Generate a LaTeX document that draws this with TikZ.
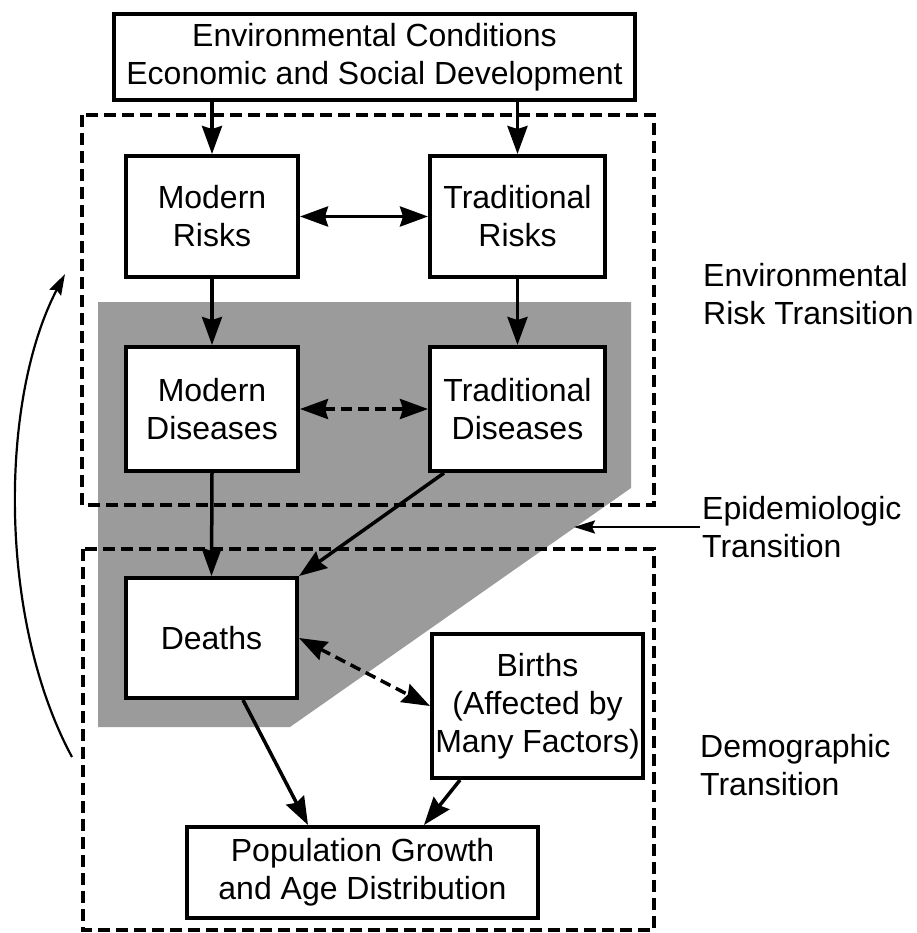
\documentclass[tikz,border=0pt]{standalone}
\usepackage{fontspec}
\setmainfont{Liberation Sans}
\usetikzlibrary{arrows.meta,calc}
\begin{document}
\begin{tikzpicture}[x=1pt,y=-1pt,
  every node/.style={font=\fontsize{32}{38}\selectfont},
  box/.style={draw, line width=4pt, fill=white, align=center, inner sep=0pt},
  link/.style={line width=3.5pt, -{Stealth[length=28pt,width=20pt,inset=3pt]}},
  twoway/.style={line width=3.5pt, {Stealth[length=28pt,width=20pt,inset=3pt]}-{Stealth[length=28pt,width=20pt,inset=3pt]}},
  dashtwoway/.style={twoway, dash pattern=on 11pt off 6pt},
  frame/.style={line width=3.5pt, dash pattern=on 12pt off 6pt},
  side/.style={anchor=west, align=left, inner sep=0pt},
  thinlink/.style={line width=2.2pt, -{Stealth[length=21pt,width=13pt,inset=3pt]}},
  shade/.style={fill={rgb,255:red,155;green,155;blue,155}},
]
% canvas
\fill[white] (0,0) rectangle (916,933);
\useasboundingbox (0,0) rectangle (916,933);

% epidemiologic band
\fill[shade] (98,302) -- (631,302) -- (631,488) -- (290,727) -- (98,727) -- cycle;

% transition frames
\draw[frame] (82,115) rectangle (654,505);
\draw[frame] (83,549) rectangle (654,930);

% boxes
\node[box, minimum width=521pt, minimum height=86pt] (env) at (374.5,57)
  {Environmental Conditions\\Economic and Social Development};
\node[box, minimum width=172pt, minimum height=121pt] (mr) at (212,216.5) {Modern\\Risks};
\node[box, minimum width=175pt, minimum height=121pt] (tr) at (517.5,216.5) {Traditional\\Risks};
\node[box, minimum width=172pt, minimum height=124pt] (md) at (212,409) {Modern\\Diseases};
\node[box, minimum width=175pt, minimum height=124pt] (td) at (517.5,409) {Traditional\\Diseases};
\node[box, minimum width=171pt, minimum height=120pt] (deaths) at (211.5,638) {Deaths};
\node[box, minimum width=211pt, minimum height=144pt] (births) at (537.5,706)
  {Births\\(Affected by\\Many Factors)};
\node[box, minimum width=351pt, minimum height=91pt] (pop) at (362.5,872.5)
  {Population Growth\\and Age Distribution};

% side labels
\node[side] (ert) at (703,294) {Environmental\\Risk Transition};
\node[side] (epi) at (702,527) {Epidemiologic\\Transition};
\node[side] (demo) at (700,765) {Demographic\\Transition};

% connectors
\draw[link] (env.south -| mr.north) -- (mr.north);
\draw[link] (env.south -| tr.north) -- (tr.north);
\draw[twoway] (mr.east) -- (tr.west);
\draw[link] (mr.south) -- (md.north);
\draw[link] (tr.south) -- (td.north);
\draw[dashtwoway] (md.east) -- (td.west);
\draw[link] (md.south) -- (deaths.north);
\draw[link] ([xshift=16pt]td.south west) -- (deaths.north east);
\draw[dashtwoway] (deaths.east) -- (births.west);
\draw[link] ([xshift=31.5pt]deaths.south) -- ([xshift=-54.5pt]pop.north);
\draw[link] ([xshift=-77.5pt]births.south) -- ([xshift=61.5pt]pop.north);

% epidemiologic pointer
\coordinate (epitip) at (574,527);
\draw[thinlink] ([xshift=-2pt]epi.west) -- (epitip);

% feedback curve
\coordinate (cbot) at (72,757);
\coordinate (ctop) at (65,274);
\draw[thinlink] (cbot) .. controls (-2,620) and (-1,400) .. (ctop);
\end{tikzpicture}
\end{document}
